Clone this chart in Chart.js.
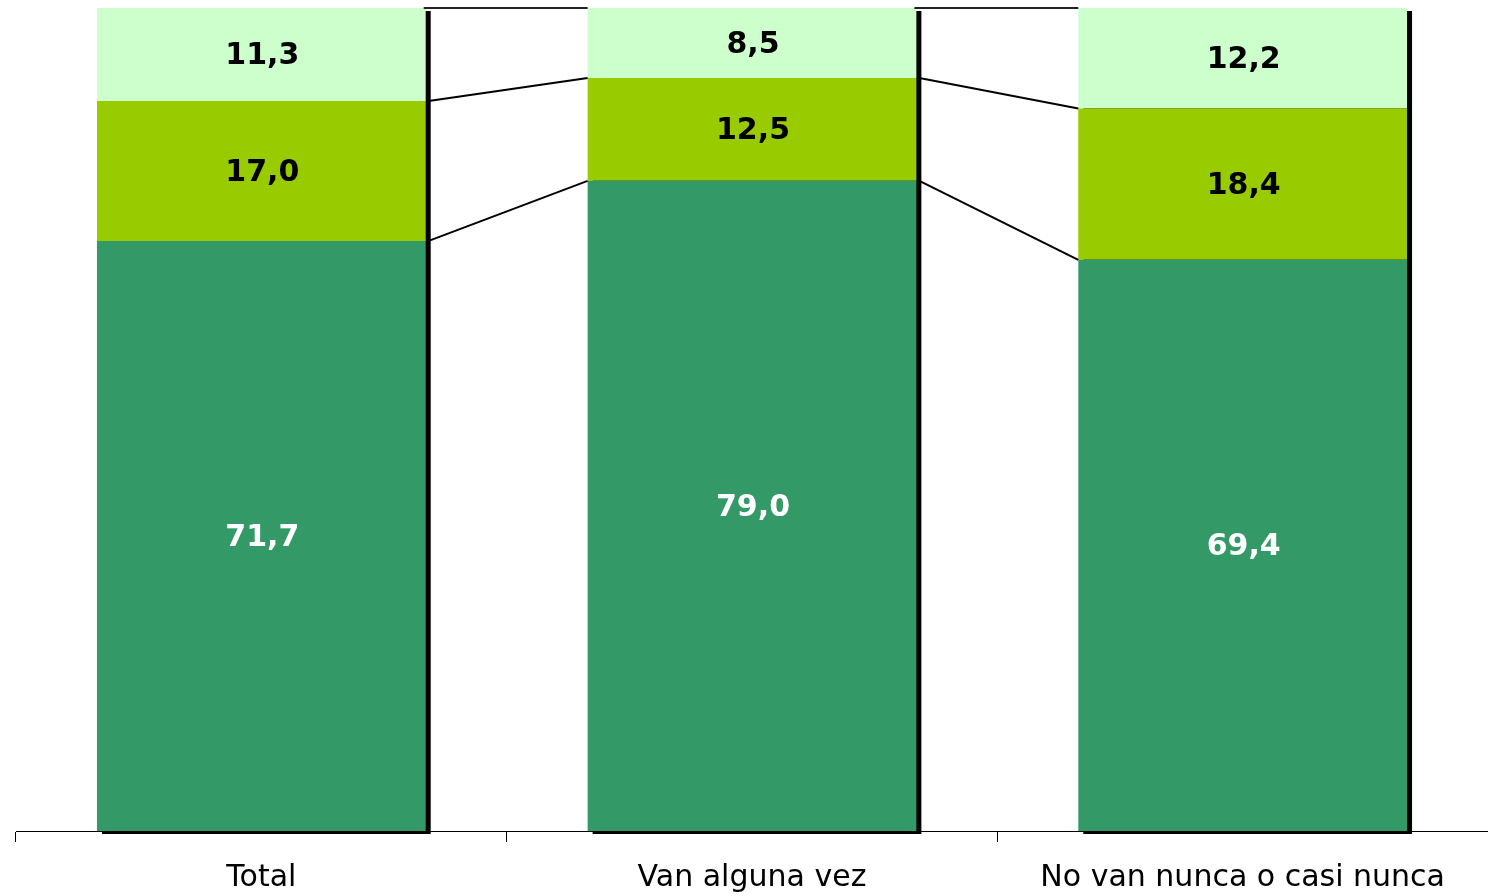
<!DOCTYPE html>
<html>
<head>
<meta charset="utf-8">
<script src="https://cdn.jsdelivr.net/npm/chart.js@4/dist/chart.umd.min.js"></script>
<style>
html,body{margin:0;padding:0;background:#fff;}
canvas{display:block;}
</style>
</head>
<body>
<canvas id="chart" width="1488" height="896"></canvas>
<script>
// data
const categories = ["Total", "Van alguna vez", "No van nunca o casi nunca"];
const serieA = [71.7, 79.0, 69.4];
const serieB = [17.0, 12.5, 18.4];
const serieC = [11.3, 8.5, 12.2];
const colors = ["#339966", "#99CC00", "#CCFFCC"];
const labelColors = ["#ffffff", "#000000", "#000000"];

const fmt = v => v.toFixed(1).replace(".", ",");

// shadow behind each stack, series lines and value labels
const stackDeco = {
  id: "stackDeco",
  beforeDatasetsDraw(chart) {
    const ctx = chart.ctx;
    const metas = chart.data.datasets.map((d, i) => chart.getDatasetMeta(i));
    ctx.save();
    ctx.fillStyle = "#000";
    metas[0].data.forEach((bar, j) => {
      const top = metas[metas.length - 1].data[j].y;
      const left = bar.x - bar.width / 2 + 5;
      ctx.fillRect(left, top + 3, bar.width, bar.base - top);
    });
    ctx.restore();
  },
  afterDatasetsDraw(chart) {
    const ctx = chart.ctx;
    const last = chart.data.datasets.length - 1;
    ctx.save();
    chart.data.datasets.forEach((ds, i) => {
      const meta = chart.getDatasetMeta(i);
      // series lines
      ctx.strokeStyle = i === last ? "#222" : "#000";
      ctx.lineWidth = 2;
      for (let j = 0; j < meta.data.length - 1; j++) {
        const a = meta.data[j], b = meta.data[j + 1];
        ctx.beginPath();
        ctx.moveTo(a.x + a.width / 2 + (i === last ? -2 : 3), a.y);
        ctx.lineTo(b.x - b.width / 2, b.y);
        ctx.stroke();
      }
      // labels
      ctx.fillStyle = labelColors[i];
      ctx.font = "bold 30px 'DejaVu Sans'";
      ctx.textAlign = "center";
      ctx.textBaseline = "middle";
      meta.data.forEach((bar, j) => {
        ctx.fillText(fmt(ds.data[j]), bar.x + 1, (bar.y + bar.base) / 2 + 2);
      });
    });
    ctx.restore();
  }
};

new Chart(document.getElementById("chart"), {
  type: "bar",
  data: {
    labels: categories,
    datasets: [
      { label: "A", data: serieA, backgroundColor: colors[0] },
      { label: "B", data: serieB, backgroundColor: colors[1] },
      { label: "C", data: serieC, backgroundColor: colors[2] }
    ]
  },
  options: {
    responsive: false,
    animation: false,
    layout: { padding: { left: 16, top: 8, right: 0, bottom: 0 } },
    datasets: { bar: { categoryPercentage: 1, barPercentage: 0.67 } },
    plugins: { legend: { display: false }, tooltip: { enabled: false } },
    scales: {
      x: {
        stacked: true,
        grid: { display: true, drawOnChartArea: false, offset: true, color: "#000", tickLength: 11, lineWidth: 1 },
        border: { color: "#000", width: 1 },
        ticks: { color: "#000", font: { family: "'DejaVu Sans'", size: 30 }, padding: 18 },
        afterFit(scale) { scale.height = 65; }
      },
      y: { stacked: true, display: false, min: 0, max: 100 }
    }
  },
  plugins: [stackDeco]
});
</script>
</body>
</html>
